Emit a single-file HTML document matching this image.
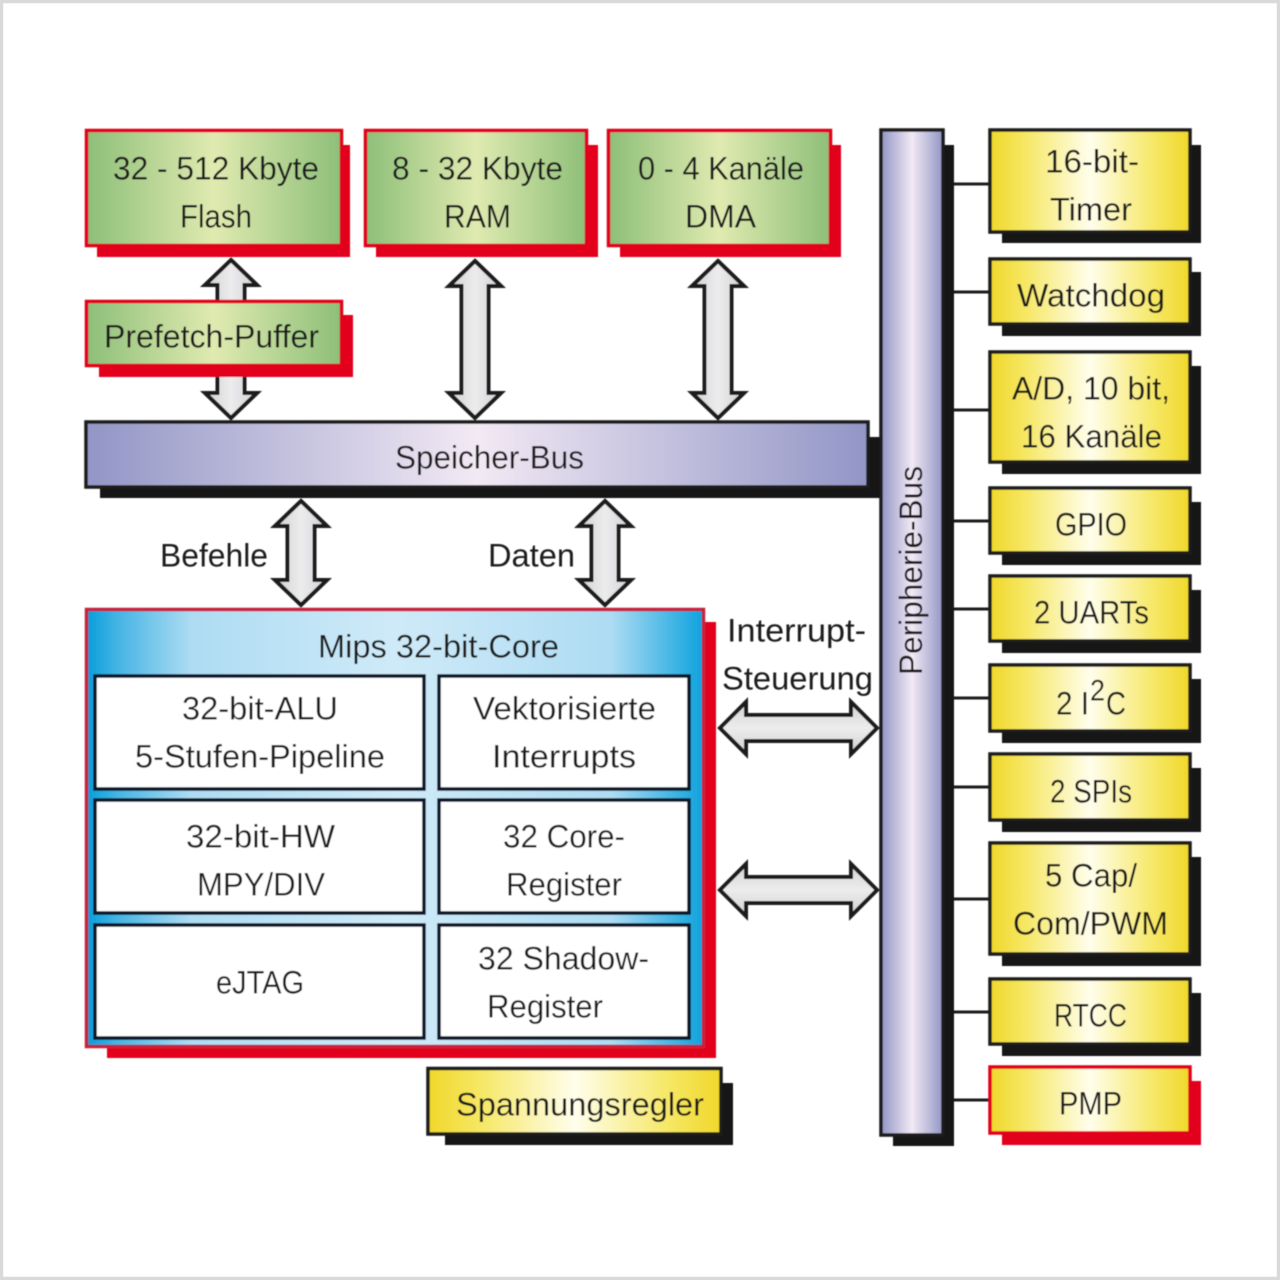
<!DOCTYPE html>
<html lang="de">
<head>
<meta charset="utf-8">
<title>Mips 32-bit-Core Blockdiagramm</title>
<style>
html,body{margin:0;padding:0;background:#fff}
svg{display:block}
text{font-family:"Liberation Sans",sans-serif;font-size:32px;fill:#1f1f1f}
</style>
</head>
<body>
<svg width="1280" height="1280" viewBox="0 0 1280 1280" xmlns="http://www.w3.org/2000/svg">
<defs>
<linearGradient id="g"><stop offset="0" stop-color="#8dbf79"/><stop offset=".5" stop-color="#e0eab0"/><stop offset="1" stop-color="#8dbf79"/></linearGradient>
<linearGradient id="y"><stop offset="0" stop-color="#f0d82a"/><stop offset=".18" stop-color="#f6e765"/><stop offset=".5" stop-color="#fffeec"/><stop offset=".82" stop-color="#f6e765"/><stop offset="1" stop-color="#f0d82a"/></linearGradient>
<linearGradient id="b"><stop offset="0" stop-color="#9296c6"/><stop offset=".5" stop-color="#f2e9f4"/><stop offset="1" stop-color="#9296c6"/></linearGradient>
<linearGradient id="c"><stop offset="0" stop-color="#069edb"/><stop offset=".05" stop-color="#45b4e4"/><stop offset=".17" stop-color="#aedcf3"/><stop offset=".5" stop-color="#cfeaf8"/><stop offset=".85" stop-color="#aedcf3"/><stop offset="1" stop-color="#0ea2dd"/></linearGradient>
<linearGradient id="av"><stop offset="0" stop-color="#d2d2d4"/><stop offset=".5" stop-color="#ececed"/><stop offset="1" stop-color="#d2d2d4"/></linearGradient>
<linearGradient id="ah" x1="0" y1="0" x2="0" y2="1"><stop offset="0" stop-color="#d2d2d4"/><stop offset=".5" stop-color="#ececed"/><stop offset="1" stop-color="#d2d2d4"/></linearGradient>
<filter id="s" x="-5%" y="-5%" width="110%" height="110%"><feGaussianBlur stdDeviation="0.5"/></filter>
</defs>

<rect width="1280" height="1280" fill="#fff"/>
<rect x="1.5" y="1.5" width="1277" height="1277" fill="none" stroke="#d9d9d9" stroke-width="3.5"/>

<g filter="url(#s)">
<!-- connectors -->
<g stroke="#1f1f1f" stroke-width="3">
<line x1="950" x2="990" y1="184" y2="184"/>
<line x1="950" x2="990" y1="292" y2="292"/>
<line x1="950" x2="990" y1="410" y2="410"/>
<line x1="950" x2="990" y1="521" y2="521"/>
<line x1="950" x2="990" y1="609" y2="609"/>
<line x1="950" x2="990" y1="698" y2="698"/>
<line x1="950" x2="990" y1="787" y2="787"/>
<line x1="950" x2="990" y1="899" y2="899"/>
<line x1="950" x2="990" y1="1012" y2="1012"/>
<line x1="950" x2="990" y1="1100" y2="1100"/>
</g>

<!-- arrows -->
<g stroke="#1c1c1c" stroke-width="4" stroke-linejoin="miter">
<polygon fill="url(#av)" points="231,260 257,285 244.500,285 244.500,393 257,393 231,418 205,393 217.500,393 217.500,285 205,285"/>
<polygon fill="url(#av)" points="475,261 501,286 488.500,286 488.500,393 501,393 475,418 449,393 461.500,393 461.500,286 449,286"/>
<polygon fill="url(#av)" points="718,261 744,286 731.500,286 731.500,393 744,393 718,418 692,393 704.500,393 704.500,286 692,286"/>
<polygon fill="url(#av)" points="301,501 327,526 314.500,526 314.500,580 327,580 301,605 275,580 287.500,580 287.500,526 275,526"/>
<polygon fill="url(#av)" points="605,501 631,526 618.500,526 618.500,580 631,580 605,605 579,580 591.500,580 591.500,526 579,526"/>
<polygon fill="url(#ah)" points="720,728 746,702 746,715 851,715 851,702 877,728 851,754 851,741 746,741 746,754"/>
<polygon fill="url(#ah)" points="720,890 746,864 746,877 851,877 851,864 877,890 851,916 851,903 746,903 746,916"/>
</g>

<!-- memory boxes -->
<g stroke="#e2001a" stroke-width="3.5">
<rect x="97" y="145" width="253" height="112" fill="#e2001a" stroke="none"/>
<rect x="86.500" y="130.500" width="255" height="115" fill="url(#g)"/>
<rect x="376" y="145" width="222" height="112" fill="#e2001a" stroke="none"/>
<rect x="365.500" y="130.500" width="221" height="115" fill="url(#g)"/>
<rect x="620" y="145" width="221" height="112" fill="#e2001a" stroke="none"/>
<rect x="608.500" y="130.500" width="222" height="115" fill="url(#g)"/>
<rect x="99" y="315" width="254" height="62" fill="#e2001a" stroke="none"/>
<rect x="86.500" y="301.500" width="255" height="64" fill="url(#g)"/>
</g>

<!-- buses -->
<rect x="100" y="437" width="780" height="61" fill="#131316"/>
<rect x="86" y="422" width="782" height="65" fill="url(#b)" stroke="#1c1c1c" stroke-width="3.500"/>
<rect x="893" y="145" width="61" height="1001" fill="#131316"/>
<rect x="881" y="130" width="62" height="1005" fill="url(#b)" stroke="#1c1c1c" stroke-width="3.500"/>

<!-- core -->
<rect x="107" y="622" width="609" height="436" fill="#e2001a"/>
<rect x="86.500" y="609.500" width="617" height="437" fill="url(#c)" stroke="#c8203c" stroke-width="3.500"/>
<g fill="#fff" stroke="#0a1826" stroke-width="3.500">
<rect x="95" y="676" width="329" height="113"/>
<rect x="439" y="676" width="250" height="113"/>
<rect x="95" y="800" width="329" height="113"/>
<rect x="439" y="800" width="250" height="113"/>
<rect x="95" y="925" width="329" height="113"/>
<rect x="439" y="925" width="250" height="113"/>
</g>

<!-- regulator -->
<rect x="445" y="1083" width="288" height="62" fill="#131316"/>
<rect x="428" y="1068.500" width="293" height="65.500" fill="url(#y)" stroke="#1c1c1c" stroke-width="3.500"/>

<!-- peripherals -->
<g fill="#131316">
<rect x="1002" y="145" width="199" height="98"/>
<rect x="1002" y="272" width="199" height="64"/>
<rect x="1002" y="366" width="199" height="108"/>
<rect x="1002" y="502" width="199" height="63"/>
<rect x="1002" y="590" width="199" height="63"/>
<rect x="1002" y="679" width="199" height="64"/>
<rect x="1002" y="768" width="199" height="64"/>
<rect x="1002" y="857" width="199" height="109"/>
<rect x="1002" y="993" width="199" height="63"/>
</g>
<rect x="1002" y="1081" width="199" height="64" fill="#e2001a"/>
<g fill="url(#y)" stroke="#1c1c1c" stroke-width="3.500">
<rect x="990" y="130" width="200" height="102"/>
<rect x="990" y="259" width="200" height="65"/>
<rect x="990" y="352" width="200" height="110"/>
<rect x="990" y="488" width="200" height="65"/>
<rect x="990" y="576" width="200" height="65"/>
<rect x="990" y="665" width="200" height="66"/>
<rect x="990" y="754" width="200" height="66"/>
<rect x="990" y="843" width="200" height="111"/>
<rect x="990" y="979" width="200" height="65"/>
</g>
<rect x="990" y="1067" width="200" height="66" fill="url(#y)" stroke="#e2001a" stroke-width="3.500"/>

<!-- labels -->
<g transform="translate(0 -0.7)">
<text x="113" y="180" textLength="206" lengthAdjust="spacingAndGlyphs">32 - 512 Kbyte</text>
<text x="180" y="228" textLength="72" lengthAdjust="spacingAndGlyphs">Flash</text>
<text x="392" y="180" textLength="171" lengthAdjust="spacingAndGlyphs">8 - 32 Kbyte</text>
<text x="444" y="228" textLength="67" lengthAdjust="spacingAndGlyphs">RAM</text>
<text x="638" y="180" textLength="166" lengthAdjust="spacingAndGlyphs">0 - 4 Kanäle</text>
<text x="685" y="228" textLength="71" lengthAdjust="spacingAndGlyphs">DMA</text>
<text x="104" y="348" textLength="215" lengthAdjust="spacingAndGlyphs">Prefetch-Puffer</text>
<text x="395" y="469" textLength="189" lengthAdjust="spacingAndGlyphs">Speicher-Bus</text>
<text x="160" y="567" textLength="108" lengthAdjust="spacingAndGlyphs">Befehle</text>
<text x="488" y="567" textLength="87" lengthAdjust="spacingAndGlyphs">Daten</text>
<text x="318" y="658" textLength="241" lengthAdjust="spacingAndGlyphs">Mips 32-bit-Core</text>
<text x="727" y="642" textLength="139" lengthAdjust="spacingAndGlyphs">Interrupt-</text>
<text x="722" y="690" textLength="151" lengthAdjust="spacingAndGlyphs">Steuerung</text>
<text x="182" y="720" textLength="156" lengthAdjust="spacingAndGlyphs">32-bit-ALU</text>
<text x="135" y="768" textLength="250" lengthAdjust="spacingAndGlyphs">5-Stufen-Pipeline</text>
<text x="473" y="720" textLength="183" lengthAdjust="spacingAndGlyphs">Vektorisierte</text>
<text x="492" y="768" textLength="144" lengthAdjust="spacingAndGlyphs">Interrupts</text>
<text x="186" y="848" textLength="149" lengthAdjust="spacingAndGlyphs">32-bit-HW</text>
<text x="197" y="896" textLength="128" lengthAdjust="spacingAndGlyphs">MPY/DIV</text>
<text x="503" y="848" textLength="122" lengthAdjust="spacingAndGlyphs">32 Core-</text>
<text x="506" y="896" textLength="116" lengthAdjust="spacingAndGlyphs">Register</text>
<text x="216" y="994" textLength="88" lengthAdjust="spacingAndGlyphs">eJTAG</text>
<text x="478" y="970" textLength="171" lengthAdjust="spacingAndGlyphs">32 Shadow-</text>
<text x="487" y="1018" textLength="116" lengthAdjust="spacingAndGlyphs">Register</text>
<text x="456" y="1116" textLength="248" lengthAdjust="spacingAndGlyphs">Spannungsregler</text>
<text x="1045" y="173" textLength="94" lengthAdjust="spacingAndGlyphs">16-bit-</text>
<text x="1050" y="221" textLength="82" lengthAdjust="spacingAndGlyphs">Timer</text>
<text x="1017" y="307" textLength="148" lengthAdjust="spacingAndGlyphs">Watchdog</text>
<text x="1012" y="400" textLength="158" lengthAdjust="spacingAndGlyphs">A/D, 10 bit,</text>
<text x="1021" y="448" textLength="141" lengthAdjust="spacingAndGlyphs">16 Kanäle</text>
<text x="1055" y="536" textLength="72" lengthAdjust="spacingAndGlyphs">GPIO</text>
<text x="1034" y="624" textLength="115" lengthAdjust="spacingAndGlyphs">2 UARTs</text>
<text x="1056" y="715" textLength="33" lengthAdjust="spacingAndGlyphs">2 I</text>
<text x="1090" y="701" textLength="15" lengthAdjust="spacingAndGlyphs" style="font-size:30px">2</text>
<text x="1106" y="715" textLength="20" lengthAdjust="spacingAndGlyphs">C</text>
<text x="1050" y="803" textLength="82" lengthAdjust="spacingAndGlyphs">2 SPIs</text>
<text x="1045" y="887" textLength="92" lengthAdjust="spacingAndGlyphs">5 Cap/</text>
<text x="1013" y="935" textLength="155" lengthAdjust="spacingAndGlyphs">Com/PWM</text>
<text x="1054" y="1027" textLength="73" lengthAdjust="spacingAndGlyphs">RTCC</text>
<text x="1059" y="1115" textLength="63" lengthAdjust="spacingAndGlyphs">PMP</text>
</g>
<text transform="translate(922 675) rotate(-90)" x="0" y="0" textLength="209" lengthAdjust="spacingAndGlyphs">Peripherie-Bus</text>
</g>
</svg>
</body>
</html>
